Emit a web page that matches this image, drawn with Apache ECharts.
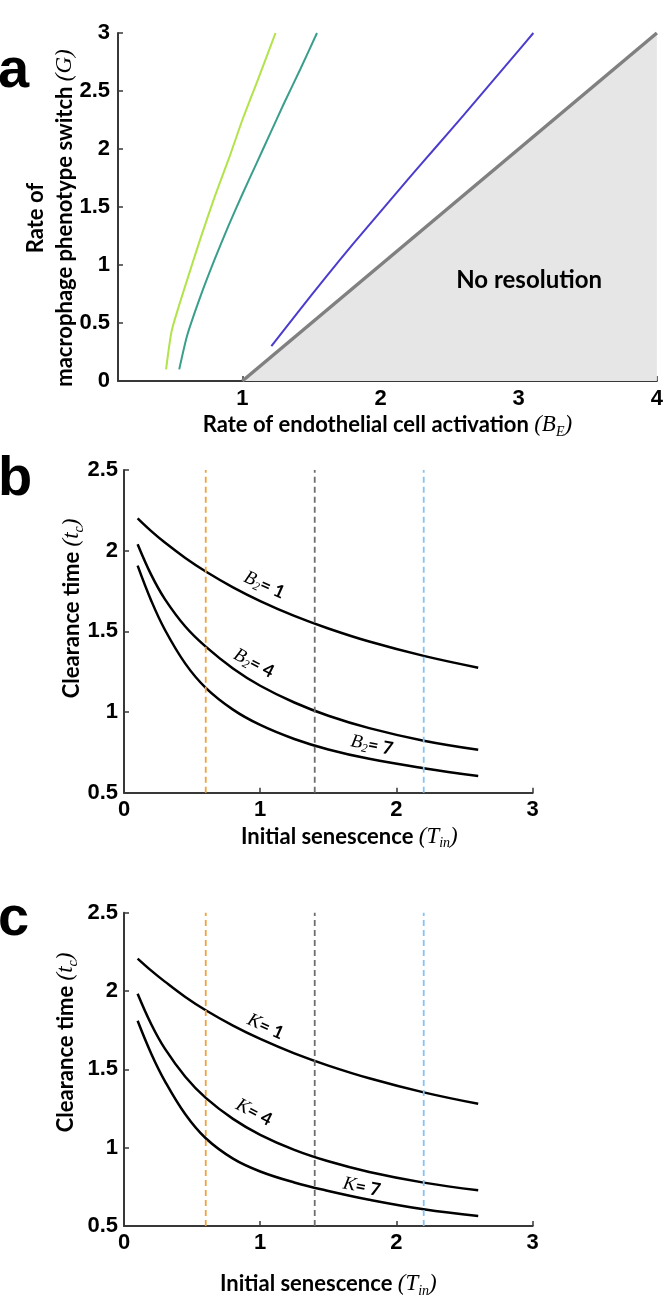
<!DOCTYPE html>
<html><head><meta charset="utf-8">
<script src="https://cdn.jsdelivr.net/npm/echarts@6/dist/echarts.min.js"></script>
<style>html,body{margin:0;padding:0;background:#fff}#c{width:666px;height:1299px}</style>
</head><body><div id="c"></div>
<script>
// ---------- Panel a data ----------
const aXTicks = [1, 2, 3, 4];
const aGreen = [[0.448,0.10],[0.49,0.44],[0.60,0.87],[0.70,1.24],[0.80,1.59],[0.906,1.93],[1.00,2.25],[1.11,2.59],[1.24,3.00]];
const aTeal  = [[0.543,0.10],[0.60,0.39],[0.70,0.74],[0.80,1.05],[0.90,1.34],[1.00,1.61],[1.10,1.87],[1.20,2.13],[1.30,2.39],[1.42,2.69],[1.54,3.00]];
const aBlue  = [[1.21,0.30],[1.40,0.59],[1.60,0.89],[1.80,1.18],[2.00,1.46],[2.20,1.74],[2.40,2.015],[2.60,2.29],[2.80,2.57],[3.00,2.85],[3.106,3.00]];
const aBoundary = [[1,0],[4,3]];
const aRegionText = 'No resolution';

// ---------- Panels b & c data ----------
const tinX  = [0.1, 0.2, 0.3, 0.45, 0.6, 0.8, 1.0, 1.25, 1.5, 1.8, 2.2, 2.6];
const bB2_1 = [2.20, 2.121, 2.05, 1.955, 1.871, 1.773, 1.688, 1.596, 1.518, 1.437, 1.348, 1.275];
const bB2_4 = [2.04, 1.85, 1.70, 1.53, 1.405, 1.27, 1.163, 1.059, 0.977, 0.90, 0.822, 0.766];
const bB2_7 = [1.907, 1.69, 1.51, 1.30, 1.15, 1.015, 0.92, 0.833, 0.768, 0.71, 0.652, 0.603];
const cK_1  = [2.207, 2.13, 2.06, 1.962, 1.877, 1.779, 1.694, 1.602, 1.524, 1.443, 1.353, 1.28];
const cK_4  = [1.983, 1.788, 1.632, 1.453, 1.318, 1.184, 1.082, 0.986, 0.913, 0.845, 0.777, 0.728];
const cK_7  = [1.81, 1.60, 1.425, 1.213, 1.06, 0.93, 0.848, 0.778, 0.724, 0.668, 0.607, 0.564];
const bLabels = ['1', '4', '7'];
const cLabels = ['1', '4', '7'];
const refTin = [0.6, 1.4, 2.2];

// ---------- annotation anchors (data coords) & styles ----------
const aRegionAnchor = [3.075, 0.87];
const bLabelAnchor = [[1.03, 1.787], [0.954, 1.302], [1.82, 0.795]];
const cLabelAnchor = [[1.04, 1.772], [0.954, 1.225], [1.745, 0.749]];
const labelRot = [-24, -27, -11];
const refColors = ['#f0a23c', '#6e6e6e', '#86c3f2'];
const aColors = ['#b2e34a', '#3a9e8c', '#4b3ccd'];

const SANS = 'Lato, "Open Sans", sans-serif';
const TICK = '"Liberation Sans", Arial, sans-serif';
const SERIF = '"Liberation Serif", "DejaVu Serif", serif';
const AX = '#383838';

function zip(xs, ys) { return xs.map((x, i) => [x, ys[i]]); }

const nameRich = {
  m: { fontFamily: SERIF, fontStyle: 'italic', fontWeight: 'normal', fontSize: 23, lineHeight: 28, color: '#000' },
  s: { fontFamily: SERIF, fontStyle: 'italic', fontWeight: 'normal', fontSize: 14, lineHeight: 14, verticalAlign: 'bottom', color: '#000' }
};
const curveRich = {
  i: { fontFamily: SERIF, fontStyle: 'italic', fontSize: 19, lineHeight: 22, color: '#000' },
  s: { fontFamily: SERIF, fontStyle: 'italic', fontSize: 12, lineHeight: 12, verticalAlign: 'bottom', color: '#000' },
  t: { fontFamily: SANS, fontWeight: 'bold', fontSize: 18, lineHeight: 22, color: '#000' }
};

function axisCommon() {
  return {
    nameMoveOverlap: false,
    axisLine: { show: true, onZero: false, lineStyle: { color: AX, width: 2 } },
    axisTick: { show: true, inside: true, length: 5, lineStyle: { color: AX, width: 1.5 } },
    splitLine: { show: false },
    axisLabel: { fontFamily: TICK, fontWeight: 'bold', fontSize: 22, color: '#000' },
    nameTextStyle: { fontFamily: SANS, fontWeight: 'bold', fontSize: 22, color: '#000', lineHeight: 28, rich: nameRich }
  };
}
function mergeDeep(a, b) {
  const o = Object.assign({}, a);
  for (const k in b) {
    if (b[k] && typeof b[k] === 'object' && !Array.isArray(b[k]) && a[k] && typeof a[k] === 'object') o[k] = mergeDeep(a[k], b[k]);
    else o[k] = b[k];
  }
  return o;
}

const grids = [
  { left: 118, top: 33, width: 540, height: 348 },
  { left: 124, top: 470, width: 408.7, height: 322.7 },
  { left: 124, top: 912.7, width: 408.7, height: 322.3 }
];

const xAxes = [
  mergeDeep(axisCommon(), {
    gridIndex: 0, type: 'value', min: 0.1, max: 4,
    axisTick: { customValues: aXTicks }, axisLabel: { customValues: aXTicks, margin: 7 },
    name: 'Rate of endothelial cell activation {m|(B}{s|E}{m|)}', nameLocation: 'middle', nameGap: 30
  }),
  mergeDeep(axisCommon(), {
    gridIndex: 1, type: 'value', min: 0, max: 3, interval: 1, axisLabel: { margin: 6 },
    name: 'Initial senescence {m|(T}{s|in}{m|)}', nameLocation: 'middle', nameGap: 30,
    nameTextStyle: { padding: [0, 0, 0, 42] }
  }),
  mergeDeep(axisCommon(), {
    gridIndex: 2, type: 'value', min: 0, max: 3, interval: 1, axisLabel: { margin: 6 },
    name: 'Initial senescence {m|(T}{s|in}{m|)}', nameLocation: 'middle', nameGap: 44
  })
];
const yAxes = [
  mergeDeep(axisCommon(), {
    gridIndex: 0, type: 'value', min: 0, max: 3, interval: 0.5, axisLabel: { margin: 8 },
    name: 'Rate of\nmacrophage phenotype switch {m|(G)}', nameLocation: 'middle', nameGap: 39,
    nameTextStyle: { lineHeight: 29, padding: [0, 22, 0, 0] }
  }),
  mergeDeep(axisCommon(), {
    gridIndex: 1, type: 'value', min: 0.5, max: 2.5, interval: 0.5, axisLabel: { margin: 6 },
    name: 'Clearance time {m|(t}{s|c}{m|)}', nameLocation: 'middle', nameGap: 38,
    nameTextStyle: { padding: [0, 0, 0, 46] }
  }),
  mergeDeep(axisCommon(), {
    gridIndex: 2, type: 'value', min: 0.5, max: 2.5, interval: 0.5, axisLabel: { margin: 6 },
    name: 'Clearance time {m|(t}{s|c}{m|)}', nameLocation: 'middle', nameGap: 44,
    nameTextStyle: { padding: [0, 0, 0, 54] }
  })
];

const series = [];
// Panel a
series.push({ type: 'line', xAxisIndex: 0, yAxisIndex: 0, data: aBoundary, showSymbol: false,
  lineStyle: { color: '#808080', width: 3.5 }, areaStyle: { color: '#e6e6e6', opacity: 1 }, z: 2 });
[aGreen, aTeal, aBlue].forEach((d, i) => series.push({ type: 'line', xAxisIndex: 0, yAxisIndex: 0, data: d,
  showSymbol: false, smooth: 0.2, lineStyle: { color: aColors[i], width: 2 }, z: 3 }));
series.push({ type: 'scatter', xAxisIndex: 0, yAxisIndex: 0, data: [aRegionAnchor], symbolSize: 0, z: 6,
  itemStyle: { color: '#000' },
  label: { show: true, position: 'inside', formatter: aRegionText, fontFamily: SANS, fontWeight: 'bold',
    fontSize: 24, color: '#000', textBorderWidth: 0, opacity: 1 } });

// Panels b & c
function panelCurves(gi, curves, labels, anchors, sym) {
  refTin.forEach((x, i) => series.push({ type: 'line', xAxisIndex: gi, yAxisIndex: gi,
    data: [[x, 0.5], [x, 2.5]], showSymbol: false, z: 4,
    lineStyle: { color: refColors[i], width: 1.8, type: [6, 4] } }));
  curves.forEach((ys, i) => series.push({ type: 'line', xAxisIndex: gi, yAxisIndex: gi,
    data: zip(tinX, ys), showSymbol: false, smooth: 0.4, z: 3,
    lineStyle: { color: '#000', width: 2.5 } }));
  anchors.forEach((p, i) => series.push({ type: 'scatter', xAxisIndex: gi, yAxisIndex: gi, data: [p],
    symbolSize: 0, itemStyle: { color: '#000' }, z: 6,
    label: { show: true, position: 'inside', rotate: labelRot[i], color: '#000', textBorderWidth: 0, opacity: 1,
      formatter: sym === 'B' ? '{i|B}{s|2}{t|= ' + labels[i] + '}' : '{i|K}{t|= ' + labels[i] + '}',
      rich: curveRich } }));
}
panelCurves(1, [bB2_1, bB2_4, bB2_7], bLabels, bLabelAnchor, 'B');
panelCurves(2, [cK_1, cK_4, cK_7], cLabels, cLabelAnchor, 'K');

const chart = echarts.init(document.getElementById('c'), null, { renderer: 'canvas' });
chart.setOption({
  animation: false,
  backgroundColor: '#fff',
  grid: grids,
  xAxis: xAxes,
  yAxis: yAxes,
  series: series,
  graphic: [
    { type: 'text', x: -2, y: 72, style: { text: 'a', font: 'bold 56px "Liberation Sans", Arial', fill: '#000', textVerticalAlign: 'middle' } },
    { type: 'text', x: -2, y: 480, style: { text: 'b', font: 'bold 56px "Liberation Sans", Arial', fill: '#000', textVerticalAlign: 'middle' } },
    { type: 'text', x: -2, y: 920, style: { text: 'c', font: 'bold 56px "Liberation Sans", Arial', fill: '#000', textVerticalAlign: 'middle' } }
  ]
});
</script></body></html>
